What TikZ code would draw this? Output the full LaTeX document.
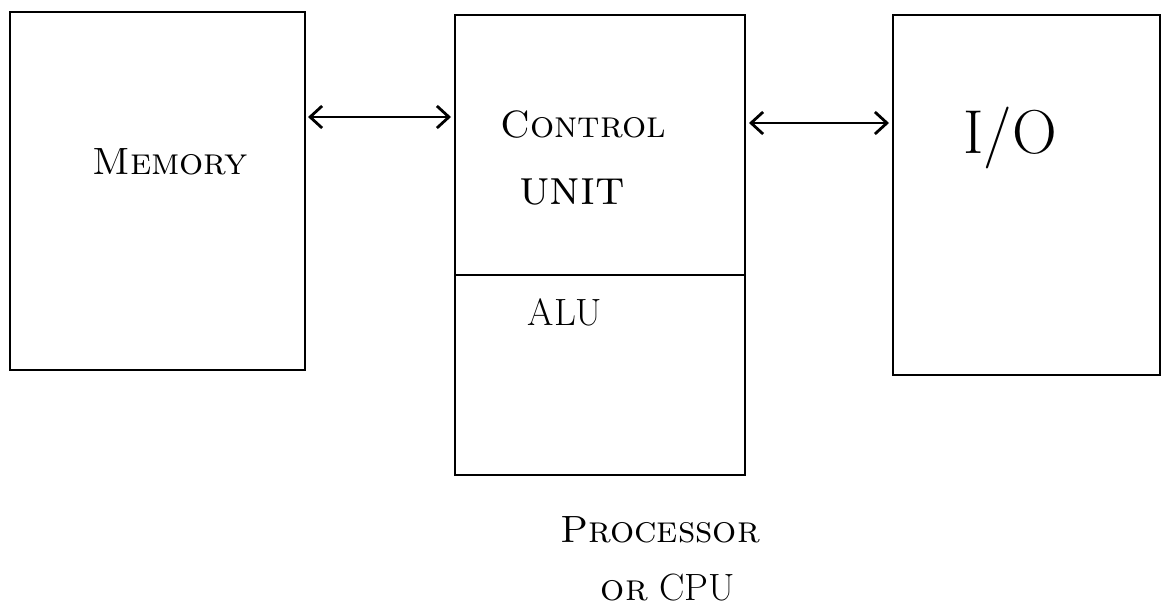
\documentclass[tikz,border=0pt]{standalone}
\usetikzlibrary{arrows.meta}
\begin{document}
\begin{tikzpicture}[x=1pt,y=-1pt,
  boxline/.style={line width=2.8pt},
  link/.style={line width=2.4pt,{Straight Barb[length=12pt,width=22pt,line width=2.8pt]}-{Straight Barb[length=12pt,width=22pt,line width=2.8pt]}},
  lbl/.style={font=\fontsize{38}{40}\selectfont,inner sep=0pt}]
\useasboundingbox (0,0) rectangle (1169,613);
% boxes
\draw[boxline] (10,12) rectangle (305,370);
\draw[boxline] (455,15) rectangle (745,475);
\draw[boxline] (455,275) -- (745,275);
\draw[boxline] (893,15) rectangle (1160,375);
% anchor coordinates for connectors
\coordinate (memR) at (308,117);
\coordinate (cpuL) at (451,117);
\coordinate (cpuR) at (749,123);
\coordinate (ioL) at (889,123);
\draw[link] (memR) -- (cpuL);
\draw[link] (cpuR) -- (ioL);
% labels
\node[lbl] (mem) at (170,162) {\textsc{Memory}};
\node[lbl] (ctl) at (583,125) {\textsc{Control}};
\node[lbl,font=\fontsize{50}{52}\selectfont] (unit) at (572,192) {\textsc{unit}};
\node[lbl] (alu) at (565,312) {ALU};
\node[lbl,font=\fontsize{62}{64}\selectfont] (io) at (1010,138) {I/O};
\node[lbl] (proc) at (660,530) {\textsc{Processor}};
\node[lbl] (cpu) at (668,588) {\textsc{or} CPU};
\end{tikzpicture}
\end{document}
